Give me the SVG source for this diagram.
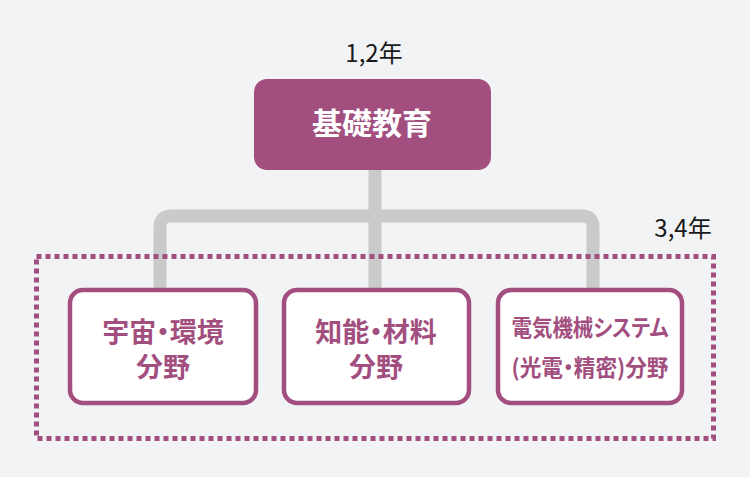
<svg xmlns="http://www.w3.org/2000/svg" width="750" height="477" viewBox="0 0 750 477">
<style>
.bg{fill:#f2f3f5}
.conn{fill:none;stroke:#c9caca;stroke-width:13}
.top{fill:#a24f80}
.child{fill:#ffffff;stroke:#a24f80;stroke-width:4.5}
.dash{fill:none;stroke:#a24f80;stroke-width:5;stroke-dasharray:5 4}
.year{font-family:"Noto Sans CJK JP","Noto Sans",sans-serif;font-size:24px;fill:#1a1a1a;text-anchor:middle}
.tt{font-family:"Noto Sans CJK JP",sans-serif;font-size:30px;font-weight:bold;fill:#ffffff;text-anchor:middle}
.ct{font-family:"Noto Sans CJK JP",sans-serif;font-size:27px;font-weight:bold;fill:#a24f80;text-anchor:middle;font-feature-settings:"palt"}
.cs{font-family:"Noto Sans CJK JP",sans-serif;font-size:23px;font-weight:bold;fill:#a24f80;text-anchor:middle;font-feature-settings:"palt"}
</style>
<rect class="bg" x="0" y="0" width="750" height="477"/>
<g id="connectors">
<path class="conn" d="M375 170 V295"/>
<path class="conn" d="M160 295 V227 Q160 216 171 216 H582 Q593 216 593 227 V295"/>
</g>
<g id="group-34">
<rect class="dash" x="36.5" y="256.5" width="677" height="182"/>
<text class="year" x="683" y="237">3,4年</text>
</g>
<g id="node-basic">
<text class="year" x="374" y="62">1,2年</text>
<rect class="top" x="254" y="79" width="237" height="91" rx="13"/>
<text class="tt" x="372" y="134">基礎教育</text>
</g>
<g id="node-space">
<rect class="child" x="70" y="290" width="186" height="113" rx="13"/>
<text class="ct" x="163" y="342">宇宙・環境</text>
<text class="ct" x="163" y="377">分野</text>
</g>
<g id="node-material">
<rect class="child" x="284" y="290" width="185" height="113" rx="13"/>
<text class="ct" x="376" y="342">知能・材料</text>
<text class="ct" x="376" y="377">分野</text>
</g>
<g id="node-electric">
<rect class="child" x="498" y="290" width="184" height="113" rx="13"/>
<text class="cs" x="590" y="336" textLength="157" lengthAdjust="spacingAndGlyphs">電気機械システム</text>
<text class="cs" x="590" y="376" textLength="157" lengthAdjust="spacingAndGlyphs">(光電・精密)分野</text>
</g>
</svg>
